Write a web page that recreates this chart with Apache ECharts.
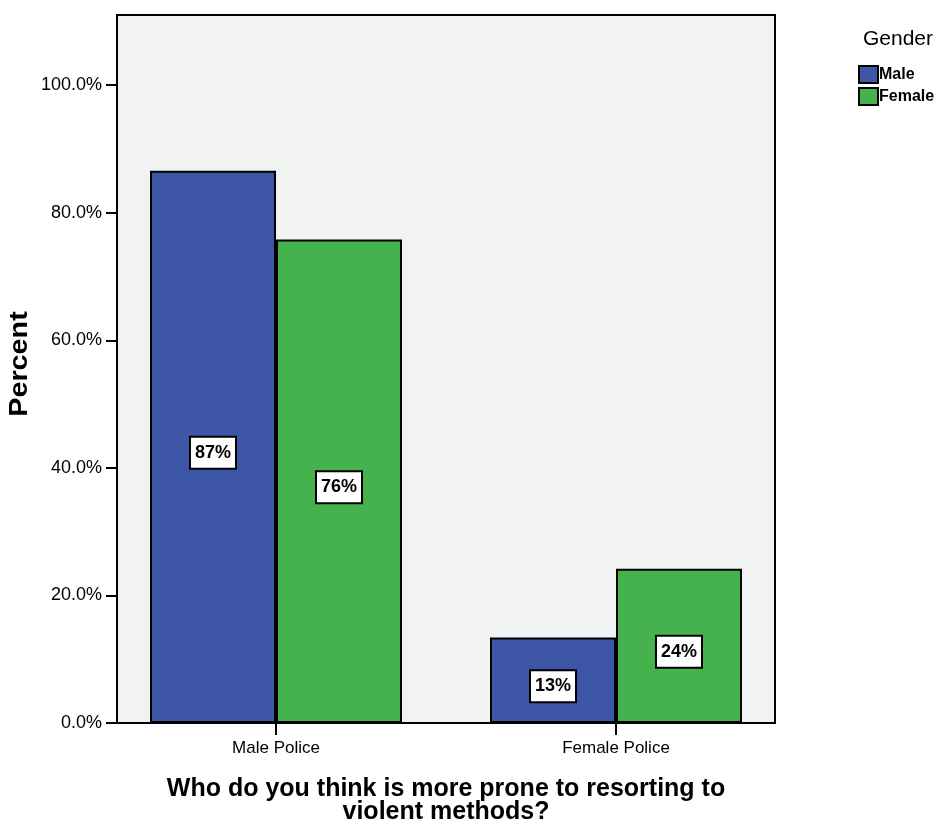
<!DOCTYPE html>
<html>
<head>
<meta charset="utf-8">
<script src="https://cdn.jsdelivr.net/npm/echarts@6/dist/echarts.min.js"></script>
<style>
html,body{margin:0;padding:0;background:#fff;}
#chart{width:941px;height:825px;}
</style>
</head>
<body>
<div id="chart"></div>
<script>
const categories = ['Male Police', 'Female Police'];
const maleValues = [86.6, 13.4];
const femaleValues = [75.8, 24.2];
const yTicks = [0, 20, 40, 60, 80, 100];
const legendTitle = 'Gender';
const seriesNames = ['Male', 'Female'];
const yAxisTitle = 'Percent';
const xAxisTitle = 'Who do you think is more prone to resorting to\nviolent methods?';

const FONT = '"Liberation Sans", Arial, Helvetica, sans-serif';
const chart = echarts.init(document.getElementById('chart'), null, {renderer: 'canvas'});

const barLabel = {
  show: true,
  position: 'inside',
  offset: [0, 6],
  formatter: p => Math.round(p.value) + '%',
  color: '#000',
  fontFamily: FONT,
  fontWeight: 'bold',
  fontSize: 18,
  backgroundColor: '#fff',
  borderColor: '#000',
  borderWidth: 2,
  padding: [7, 4, 5, 4]
};

chart.setOption({
  animation: false,
  backgroundColor: '#fff',
  textStyle: {fontFamily: FONT},
  grid: [
    {left: 117, top: 15, width: 658, height: 708, show: true, outerBoundsMode: 'none', containLabel: false,
     backgroundColor: '#f1f2f2', borderColor: '#000', borderWidth: 2},
    {left: 106, top: 15, width: 680, height: 708, show: false, outerBoundsMode: 'none', containLabel: false}
  ],
  xAxis: [
    {type: 'value', gridIndex: 0, show: false, min: 0, max: 1},
    {type: 'category', gridIndex: 1, data: categories, boundaryGap: true,
     axisLine: {show: false},
     axisTick: {show: true, alignWithLabel: true, length: 12, lineStyle: {color: '#000', width: 2}},
     axisLabel: {color: '#000', fontSize: 17, margin: 17, fontFamily: FONT},
     splitLine: {show: false},
     name: xAxisTitle, nameLocation: 'middle', nameGap: 55,
     nameTextStyle: {color: '#000', fontSize: 25, fontWeight: 'bold', lineHeight: 23, fontFamily: FONT, align: 'center'}
    }
  ],
  yAxis: [
    {type: 'value', gridIndex: 0, min: 0, max: 111, interval: 20,
     axisLine: {show: true, lineStyle: {color: '#000', width: 2}},
     axisTick: {show: true, length: 11, lineStyle: {color: '#000', width: 2}, customValues: yTicks},
     axisLabel: {color: '#000', fontSize: 18, margin: 15, fontFamily: FONT,
       customValues: yTicks, formatter: v => v.toFixed(1) + '%'},
     splitLine: {show: false}
    },
    {type: 'value', gridIndex: 1, min: 0, max: 111, show: false}
  ],
  legend: {
    orient: 'vertical', left: 858, top: 65, padding: 0,
    icon: 'rect',
    itemWidth: 19, itemHeight: 17, itemGap: 3,
    data: seriesNames,
    textStyle: {color: '#000', fontSize: 16, fontWeight: 'bold', fontFamily: FONT, padding: [0, 0, 0, -4]}
  },
  graphic: [
    {type: 'text', left: 863, top: 29,
     style: {text: legendTitle, fill: '#000', font: '21px ' + FONT}},
    {type: 'text', x: 20, y: 364, rotation: Math.PI / 2, scaleX: 1.15,
     style: {text: yAxisTitle, fill: '#000', font: 'bold 25px ' + FONT, align: 'center', verticalAlign: 'middle'}}
  ],
  series: [
    {name: seriesNames[0], type: 'bar', xAxisIndex: 1, yAxisIndex: 1, data: maleValues,
     barWidth: 126, barGap: '0%',
     itemStyle: {color: '#3d56a5', borderColor: '#000', borderWidth: 2},
     label: barLabel},
    {name: seriesNames[1], type: 'bar', xAxisIndex: 1, yAxisIndex: 1, data: femaleValues,
     barWidth: 126, barGap: '0%',
     itemStyle: {color: '#45b24e', borderColor: '#000', borderWidth: 2},
     label: barLabel}
  ]
});
</script>
</body>
</html>
